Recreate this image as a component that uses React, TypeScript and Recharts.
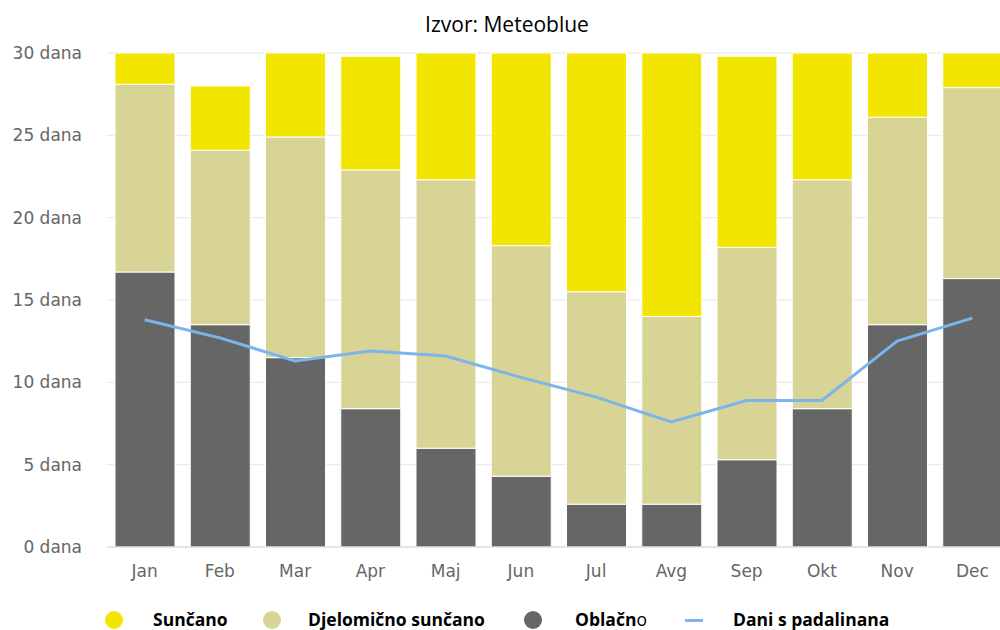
import { ComposedChart, Bar, Line, XAxis, YAxis, CartesianGrid } from "recharts";

// broj dana po mjesecu (Meteoblue)
const months = ["Jan", "Feb", "Mar", "Apr", "Maj", "Jun", "Jul", "Avg", "Sep", "Okt", "Nov", "Dec"];
const oblacno = [16.7, 13.5, 11.5, 8.4, 6.0, 4.3, 2.6, 2.6, 5.3, 8.4, 13.5, 16.3];
const djelomicno = [11.4, 10.6, 13.4, 14.5, 16.3, 14.0, 12.9, 11.4, 12.9, 13.9, 12.6, 11.6];
const suncano = [1.9, 3.9, 5.1, 6.9, 7.7, 11.7, 14.5, 16.0, 11.6, 7.7, 3.9, 2.1];
const padaline = [13.8, 12.7, 11.3, 11.9, 11.6, 10.3, 9.1, 7.6, 8.9, 8.9, 12.5, 13.9];
const yTicks = [0, 5, 10, 15, 20, 25, 30];

const data = months.map((m, i) => ({
  month: m,
  oblacno: oblacno[i],
  djelomicno: djelomicno[i],
  suncano: suncano[i],
  padaline: padaline[i],
}));

const YELLOW = "#f2e600";
const PARTLY = "#d8d496";
const CLOUDY = "#666666";
const LINE = "#7cb5ec";

const tickStyle = { fill: "#666666", fontSize: 17, fontFamily: "DejaVu Sans" };
const legendText = {
  position: "absolute" as const,
  top: 610,
  fontFamily: "Open Sans",
  fontWeight: 700,
  fontSize: 17.5,
  lineHeight: "18px",
  color: "#000",
  whiteSpace: "nowrap" as const,
};

function Dot({ x, color }: { x: number; color: string }) {
  return (
    <div
      style={{
        position: "absolute",
        left: x - 9,
        top: 611,
        width: 18,
        height: 18,
        borderRadius: "50%",
        background: color,
      }}
    />
  );
}

export default function App() {
  return (
    <div
      style={{
        position: "absolute",
        left: 0,
        top: 0,
        width: 1000,
        height: 630,
        overflow: "hidden",
        background: "#fff",
      }}
    >
      <div
        style={{
          position: "absolute",
          top: 10,
          left: 307,
          width: 400,
          textAlign: "center",
          fontFamily: "Open Sans",
          fontSize: 21,
          lineHeight: "28px",
          color: "#000",
        }}
      >
        Izvor: Meteoblue
      </div>

      <div style={{ position: "absolute", left: 0, top: 0 }}>
        <ComposedChart
          width={1010}
          height={600}
          data={data}
          margin={{ top: 53, right: 0, bottom: 13, left: 0 }}
        >
          <CartesianGrid vertical={false} stroke="#e6e6e6" />
          <XAxis
            dataKey="month"
            height={40}
            tickLine={false}
            tickMargin={12}
            axisLine={{ stroke: "#ccd6eb" }}
            tick={tickStyle}
            interval={0}
          />
          <YAxis
            width={107}
            domain={[0, 30]}
            ticks={yTicks}
            axisLine={false}
            tickLine={false}
            tickMargin={19}
            tick={tickStyle}
            tickFormatter={(v: number) => `${v} dana`}
          />
          <Bar dataKey="oblacno" stackId="a" fill={CLOUDY} stroke="#fff" barSize={60} isAnimationActive={false} />
          <Bar dataKey="djelomicno" stackId="a" fill={PARTLY} stroke="#fff" barSize={60} isAnimationActive={false} />
          <Bar dataKey="suncano" stackId="a" fill={YELLOW} stroke="#fff" barSize={60} isAnimationActive={false} />
          <Line
            dataKey="padaline"
            type="linear"
            stroke={LINE}
            strokeWidth={3}
            dot={false}
            activeDot={false}
            isAnimationActive={false}
          />
        </ComposedChart>
      </div>

      {/* legenda */}
      <Dot x={114} color={YELLOW} />
      <div style={{ ...legendText, left: 153 }}>Sunčano</div>
      <Dot x={272} color={PARTLY} />
      <div style={{ ...legendText, left: 308 }}>Djelomično sunčano</div>
      <Dot x={533} color={CLOUDY} />
      <div style={{ ...legendText, left: 575 }}>
        Oblačn<span style={{ fontWeight: 400 }}>o</span>
      </div>
      <div
        style={{
          position: "absolute",
          left: 685,
          top: 619,
          width: 18,
          height: 3,
          background: LINE,
        }}
      />
      <div style={{ ...legendText, left: 733 }}>Dani s padalinana</div>
    </div>
  );
}
